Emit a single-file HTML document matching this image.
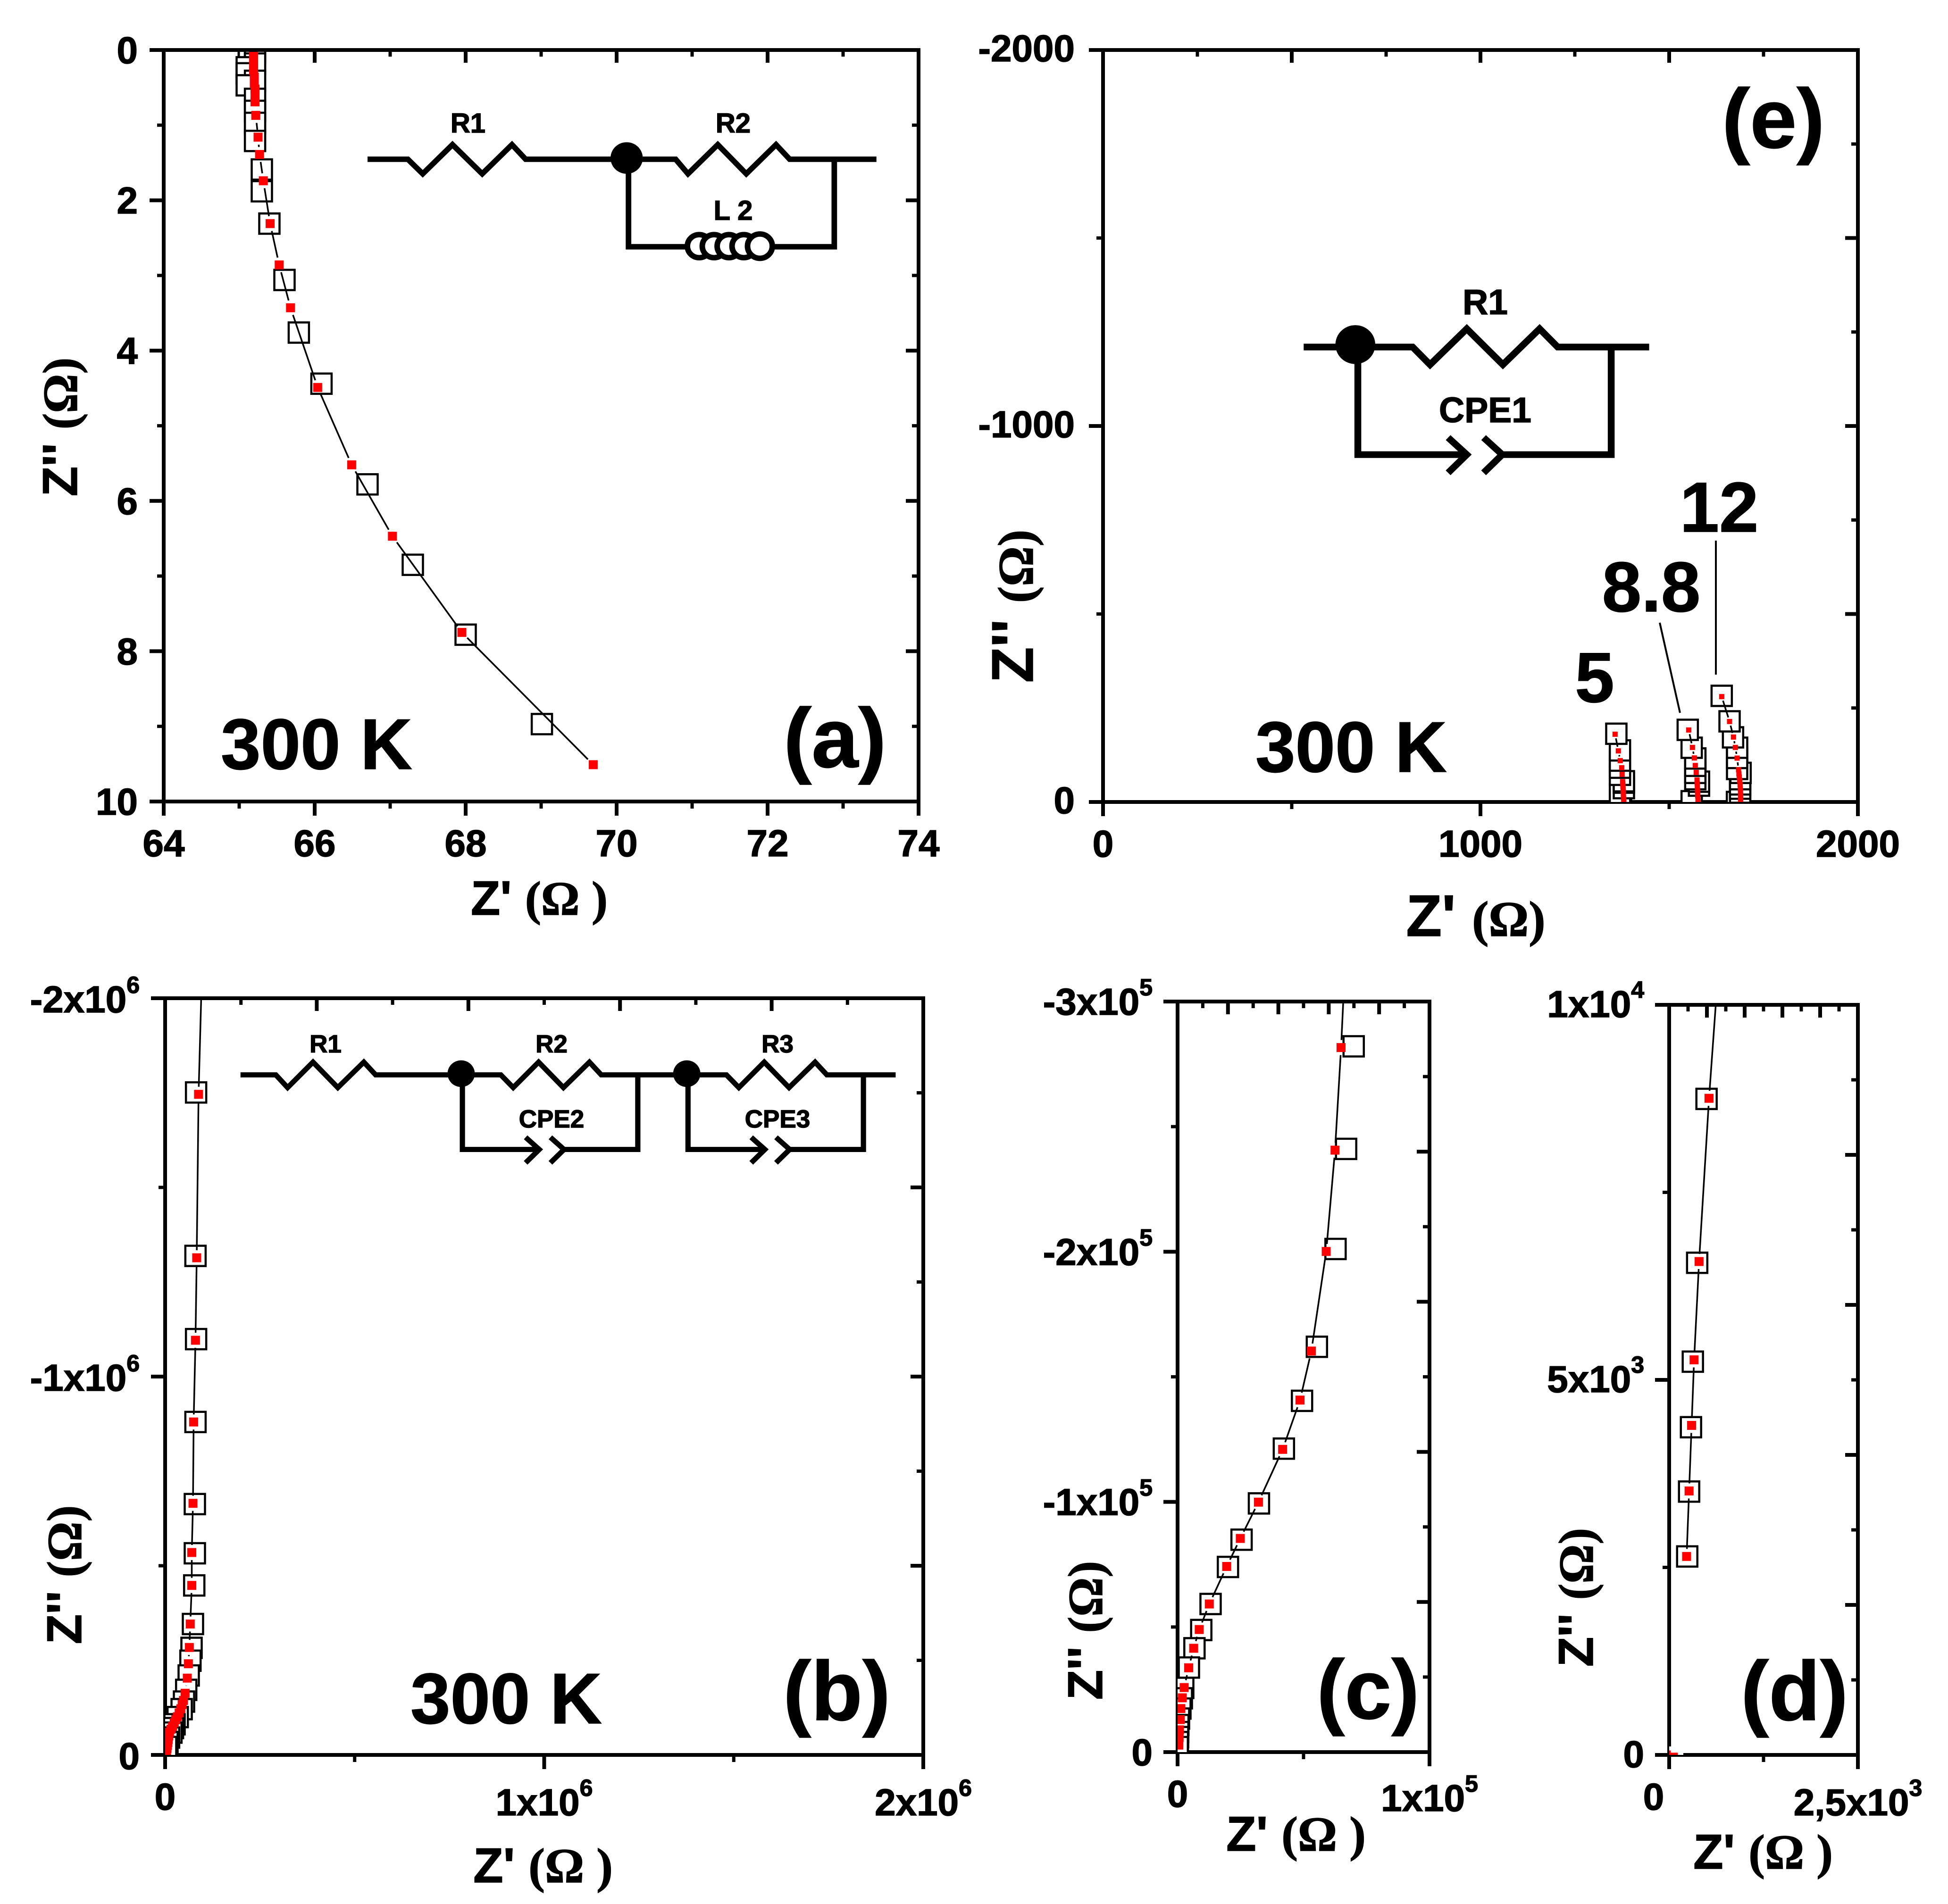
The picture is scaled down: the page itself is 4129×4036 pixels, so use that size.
<!DOCTYPE html>
<html>
<head>
<meta charset="utf-8">
<title>Impedance spectra panels</title>
<style>
html,body{margin:0;padding:0;background:#fff;}
svg{display:block;}
text{font-family:"Liberation Sans",sans-serif;font-weight:bold;fill:#000;stroke:#000;stroke-width:1.5px;}
.om{font-family:"Liberation Serif",serif;font-weight:bold;}
.wire{fill:none;stroke:#000;stroke-linejoin:miter;}
</style>
</head>
<body>
<svg id="figure" xmlns="http://www.w3.org/2000/svg" width="4129" height="4036" viewBox="0 0 4129 4036">
<rect width="4129" height="4036" fill="#fff"/>
<g id="panels"></g>

<!-- Axis titles -->
<text x="1143" y="1939" font-size="102" text-anchor="middle">Z' <tspan class="om">(Ω )</tspan></text>
<text transform="translate(163 905) rotate(-90)" font-size="104" text-anchor="middle">Z'' <tspan class="om">(Ω)</tspan></text>
<text x="3128" y="1984" font-size="124" text-anchor="middle">Z' <tspan class="om" font-size="106" font-weight="normal">(Ω)</tspan></text>
<text transform="translate(2189 1285) rotate(-90)" font-size="124" text-anchor="middle">Z'' <tspan class="om" font-size="106" font-weight="normal">(Ω)</tspan></text>
<text x="1151" y="3990" font-size="104" text-anchor="middle">Z' <tspan class="om">(Ω )</tspan></text>
<text transform="translate(172 3338) rotate(-90)" font-size="104" text-anchor="middle">Z'' <tspan class="om">(Ω)</tspan></text>
<text x="2747" y="3923" font-size="104" text-anchor="middle">Z' <tspan class="om">(Ω )</tspan></text>
<text transform="translate(2336 3456) rotate(-90)" font-size="104" text-anchor="middle">Z'' <tspan class="om">(Ω)</tspan></text>
<text x="3737" y="3961" font-size="104" text-anchor="middle">Z' <tspan class="om">(Ω )</tspan></text>
<text transform="translate(3376 3386) rotate(-90)" font-size="104" text-anchor="middle">Z'' <tspan class="om">(Ω)</tspan></text>

<!-- Panel annotations -->
<text x="468" y="1630" font-size="152">300 K</text>
<text x="2661" y="1636" font-size="152">300 K</text>
<text x="870" y="3653" font-size="152">300 K</text>
<text x="1661" y="1626" font-size="178">(a)</text>
<text x="3650" y="313" font-size="178">(e)</text>
<text x="1660" y="3646" font-size="178">(b)</text>
<text x="2791" y="3643" font-size="178">(c)</text>
<text x="3690" y="3646" font-size="178">(d)</text>
<text x="3380" y="1488" font-size="150" text-anchor="middle">5</text>
<text x="3500" y="1296" font-size="150" text-anchor="middle">8.8</text>
<text x="3644" y="1127" font-size="150" text-anchor="middle">12</text>
<line x1="3518" y1="1320" x2="3561" y2="1511" stroke="#000" stroke-width="4"/>
<line x1="3637" y1="1146" x2="3637" y2="1430" stroke="#000" stroke-width="4"/>

<!-- Circuit (a) -->
<g>
<g transform="matrix(1.3138 0 0 1.2883 0 0)">
<path class="wire" stroke-width="9" d="M593 262H658L682 286L730 238L778 286L826 238L848 262H1090L1110 286L1158 238L1204 286L1252 238L1274 262H1414"/>
<path class="wire" stroke-width="9" d="M1014 262V406H1346V262"/>
<circle cx="1011" cy="260" r="26" fill="#000"/>
<g fill="#fff" stroke="#000" stroke-width="9">
<circle cx="1128" cy="405" r="19"/><circle cx="1152" cy="405" r="19"/><circle cx="1176" cy="405" r="19"/><circle cx="1200" cy="405" r="19"/><circle cx="1226" cy="405" r="20"/>
</g>
</g>
<text x="992" y="281" font-size="58" text-anchor="middle">R1</text>
<text x="1554" y="281" font-size="58" text-anchor="middle">R2</text>
<text x="1554" y="466" font-size="58" text-anchor="middle">L 2</text>
</g>

<!-- Circuit (e) -->
<g>
<g transform="matrix(1.3195 0 0 1.2883 2060 0)">
<path class="wire" stroke-width="11" d="M533 571H708L736 600L795 541L853 600L912 541L941 571H1088"/>
<path class="wire" stroke-width="11" d="M620 571V748H795M765 720L795 748L765 778M822 720L852 748L822 778M852 748H1027V571"/>
<circle cx="616" cy="567" r="32" fill="#000"/>
</g>
<text x="3148" y="666" font-size="75" text-anchor="middle">R1</text>
<text x="3148" y="895" font-size="75" text-anchor="middle">CPE1</text>
</g>

<!-- Circuit (b) -->
<g>
<g transform="matrix(1.3138 0 0 1.2857 0 2020)">
<path class="wire" stroke-width="8.5" d="M388 201H445L464 222L505 180L545 222L587 180L606 201H808L828 222L869 180L909 222L951 180L970 201H1172L1192 222L1233 180L1273 222L1315 180L1334 201H1445"/>
<path class="wire" stroke-width="8.5" d="M746 201V324H870M848 304L870 324L848 346M888 304L910 324L888 346M910 324H1029V201"/>
<path class="wire" stroke-width="8.5" d="M1110 201V324H1234M1212 304L1234 324L1212 346M1252 304L1274 324L1252 346M1274 324H1393V201"/>
<circle cx="744" cy="199" r="22" fill="#000"/>
<circle cx="1108" cy="199" r="22" fill="#000"/>
</g>
<text x="690" y="2231" font-size="53" text-anchor="middle">R1</text>
<text x="1169" y="2231" font-size="53" text-anchor="middle">R2</text>
<text x="1648" y="2231" font-size="53" text-anchor="middle">R3</text>
<text x="1169" y="2390" font-size="53" text-anchor="middle">CPE2</text>
<text x="1648" y="2390" font-size="53" text-anchor="middle">CPE3</text>
</g>
</svg>

<script>
// ---------- Panel (a) data ----------
var aSquareX = [65.13,65.21,65.21,65.1,65.1,65.21,65.1,65.21,65.21,65.21,65.21,65.3,65.3,65.4,65.6,65.79,66.09,66.7,67.3,68,69.01];
var aSquareY = [0.03,0.03,0.18,0.23,0.31,0.41,0.47,0.65,0.81,0.97,1.21,1.59,1.88,2.31,3.06,3.76,4.44,5.78,6.85,7.78,8.97];
var aFitX = [65.19,65.19,65.19,65.19,65.2,65.2,65.21,65.21,65.21,65.22,65.25,65.27,65.32,65.41,65.53,65.68,66.04,66.49,67.03,67.95,69.69];
var aFitY = [0.02,0.1,0.18,0.27,0.36,0.44,0.52,0.6,0.69,0.87,1.16,1.39,1.74,2.31,2.86,3.43,4.49,5.52,6.47,7.75,9.51];
var aXTickValues = [64,66,68,70,72,74];
var aXTickLabels = ["64","66","68","70","72","74"];
var aXMinor = [65,67,69,71,73];
var aYTickValues = [0,2,4,6,8,10];
var aYTickLabels = ["0","2","4","6","8","10"];
var aYMinor = [1,3,5,7,9];

// ---------- Panel (b) data ----------
var bSquareX = [8.17e4,8.01e4,8.17e4,8.01e4,7.84e4,7.84e4,7.68e4,7.34e4,6.97e4,6.68e4,6.22e4,5.56e4,4.98e4,4.36e4,3.32e4,2.49e4,2.07e4,1.66e4,1.04e4,0.62e4,0.25e4];
var bSquareY = [-1.751e6,-1.319e6,-1.099e6,-8.8e5,-6.63e5,-5.33e5,-4.48e5,-3.46e5,-2.83e5,-2.49e5,-2.1e5,-1.72e5,-1.41e5,-1.21e5,-1.0e5,-8.1e4,-7.1e4,-5.9e4,-4.6e4,-3.4e4,-2.1e4];
var bFitX = [9.65e4,8.82e4,8.33e4,8.01e4,7.52e4,7.35e4,7.03e4,7.03e4,6.63e4,6.39e4,6.14e4,5.85e4,5.27e4,4.85e4,4.5e4,4.15e4,3.7e4,3.24e4,2.8e4,2.4e4,1.95e4,1.55e4,1.16e4,0.95e4,0.83e4,0.72e4,0.62e4,0.5e4,0.37e4,0.25e4];
var bFitY = [-2.05e6,-1.746e6,-1.314e6,-1.096e6,-8.8e5,-6.65e5,-5.35e5,-4.48e5,-3.46e5,-2.84e5,-2.41e5,-2.03e5,-1.63e5,-1.44e5,-1.33e5,-1.22e5,-1.11e5,-1.01e5,-9.3e4,-8.5e4,-7.5e4,-6.8e4,-6e4,-5e4,-4.1e4,-3.3e4,-2.5e4,-1.7e4,-0.9e4,-0.2e4];
var bXTickValues = [0,1e6,2e6];
var bXTickLabels = ["0","1x10^6","2x10^6"];
var bXMinor = [5e5,1.5e6];
var bTopMajor = [4e5,8e5,1.2e6,1.6e6];
var bTopMinor = [2e5,6e5,1e6,1.4e6,1.8e6];
var bYTickValues = [0,-1e6,-2e6];
var bYTickLabels = ["0","-1x10^6","-2x10^6"];
var bYMinor = [-5e5,-1.5e6];
var bRightMajor = [-5e5,-1e6,-1.5e6];
var bRightMinor = [-2.5e5,-7.5e5,-1.25e6,-1.75e6];

// ---------- Panel (c) data ----------
var cSquareX = [6.99e4,6.69e4,6.27e4,5.53e4,4.94e4,4.22e4,3.23e4,2.54e4,2.0e4,1.31e4,0.94e4,0.67e4,0.45e4,0.225e4,0.169e4,0.112e4,0.056e4,0.03e4,0.025e4,0.02e4,0.01e4,0.005e4];
var cSquareY = [-2.821e5,-2.411e5,-2.011e5,-1.62e5,-1.404e5,-1.213e5,-9.94e4,-8.49e4,-7.4e4,-5.92e4,-4.88e4,-4.15e4,-3.38e4,-2.566e4,-2.15e4,-1.74e4,-1.34e4,-1.08e4,-8e3,-6e3,-4e3,-2e3];
var cFitX = [6.6e4,6.49e4,6.25e4,5.9e4,5.31e4,4.86e4,4.17e4,3.21e4,2.49e4,1.95e4,1.26e4,0.86e4,0.64e4,0.44e4,0.262e4,0.187e4,0.131e4,0.107e4,0.075e4,0.062e4,0.05e4];
var cFitY = [-3.05e5,-2.816e5,-2.406e5,-2.001e5,-1.603e5,-1.407e5,-1.21e5,-9.99e4,-8.54e4,-7.42e4,-5.92e4,-4.9e4,-4.15e4,-3.37e4,-2.58e4,-2.17e4,-1.74e4,-1.3e4,-8.9e3,-5.8e3,-2.8e3];
var cXTickValues = [0,1e5];
var cXTickLabels = ["0","1x10^5"];
var cXMinor = [5e4];
var cTopMajor = [2e4,4e4,6e4,8e4];
var cTopMinor = [1e4,3e4,5e4,7e4,9e4];
var cYTickValues = [0,-1e5,-2e5,-3e5];
var cYTickLabels = ["0","-1x10^5","-2x10^5","-3x10^5"];
var cYMinor = [-5e4,-1.5e5,-2.5e5];
var cRightMajor = [-6e4,-1.2e5,-1.8e5,-2.4e5];
var cRightMinor = [-3e4,-9e4,-1.5e5,-2.1e5,-2.7e5];

// ---------- Panel (d) data ----------
var dSquareX = [495,371,313.5,289,264,239];
var dSquareY = [8746,6561,5243,4369,3511,2646];
var dFitX = [635,528,396,330,297,264,231];
var dFitY = [10250,8754,6578,5267,4393,3519,2646];
var dCornerFitX = [56,-38];
var dCornerFitY = [-30,0];
var dXTickValues = [0,2500];
var dXTickLabels = ["0","2,5x10^3"];
var dXMinor = [1250];
var dTopMajor = [500,1000,1500,2000];
var dTopMinor = [250,750,1250,1750,2250];
var dYTickValues = [0,5000,10000];
var dYTickLabels = ["0","5x10^3","1x10^4"];
var dYMinor = [2500,7500];
var dRightMajor = [2000,4000,6000,8000];
var dRightMinor = [1000,3000,5000,7000,9000];

// ---------- Panel (e) data ----------
var e5SquareX = [1372.5,1369.6,1380,1380,1380,1369.6,1369.6,1369.6,1369.6,1360];
var e5SquareY = [-8.4,-20.9,-36.8,-51.4,-55.2,-72.3,-91.2,-110,-137.2,-181.5];
var e5FitX = [1356.7,1365.4,1370.4,1374.2,1375.4,1376.7,1377.1,1377.5,1378,1378.3,1378.6,1378.8,1379.2,1379.6,1380];
var e5FitY = [-180.2,-135.9,-110,-91.2,-73.6,-54.3,-48,-41.8,-35,-29.3,-23,-16.7,-11,-6.3,-1];
var e88SquareX = [1559.6,1579,1579,1569.2,1569.2,1569.2,1569.2,1569.2,1559.6,1549.2];
var e88SquareY = [-2,-43.5,-54,-60.6,-77.4,-96.2,-115.8,-115.8,-144.3,-191.9];
var e88FitX = [1551.7,1561.7,1566.7,1569.2,1571.7,1573.8,1574.2,1574.6,1575,1575.4,1575.8,1576.3,1576.6];
var e88FitY = [-191.5,-145.1,-117.1,-97,-78.6,-58.5,-50,-41.8,-33,-25,-16,-6.2,0];
var e12SquareX = [1679.6,1688,1688,1688,1688,1689.2,1680,1680,1680,1669.2,1660,1639.2];
var e12SquareY = [0,-25,-35.5,-46.8,-60.6,-77.4,-87.8,-117.1,-144.3,-171.9,-214.5,-282.3];
var e12FitX = [1639.2,1660,1670.4,1675.4,1680,1683.8,1684.8,1685.8,1687,1688,1688.5,1689,1689.2,1689.2,1689.2];
var e12FitY = [-280.2,-214.1,-172.7,-145.1,-116.7,-85.7,-75,-66.9,-57,-46,-36,-27,-18,-9,-2];
var eXTickValues = [0,1000,2000];
var eXTickLabels = ["0","1000","2000"];
var eXMinor = [500,1500];
var eTopMajor = [500,1000,1500];
var eTopMinor = [250,750,1250,1750];
var eYTickValues = [0,-1000,-2000];
var eYTickLabels = ["0","-1000","-2000"];
var eYMinor = [-500,-1500];
var eRightMajor = [-500,-1000,-1500];
var eRightMinor = [-250,-750,-1250,-1750];

var NS = "http://www.w3.org/2000/svg";
var root = document.getElementById("panels");

function linear(d0, d1, r0, r1) {
  return function (v) { return r0 + (v - d0) / (d1 - d0) * (r1 - r0); };
}
function mk(parent, tag, attrs) {
  var el = document.createElementNS(NS, tag);
  for (var k in attrs) el.setAttribute(k, attrs[k]);
  parent.appendChild(el);
  return el;
}
function tick(g, x1, y1, x2, y2, w) {
  var t = mk(g, "line", {x1: x1, y1: y1, x2: x2, y2: y2, stroke: "#000", "stroke-width": w});
  
  
}
function tickLabel(g, x, y, label, anchor, exponentBaseShift) {
  var parts = label.split("^");
  var t = mk(g, "text", {x: x, y: y, "font-size": 80, "text-anchor": anchor});
  
  
  t.appendChild(document.createTextNode(parts[0]));
  if (parts[1]) {
    var s = mk(t, "tspan", {dy: exponentBaseShift, "font-size": 50});
    s.textContent = parts[1];
  }
}
function drawPanel(p) {
  var g = mk(root, "g", {});
  
  
  var L = p.box[0], T = p.box[1], R = p.box[2], B = p.box[3];
  var sx = linear(p.xDomain[0], p.xDomain[1], L, R);
  var sy = linear(p.yDomain[0], p.yDomain[1], B, T);
  var frame = mk(g, "rect", {x: L, y: T, width: R - L, height: B - T, fill: "none", stroke: "#000", "stroke-width": 8});
  
  
  p.xMajor.forEach(function (v) { tick(g, sx(v), B, sx(v), B + 30, 8); });
  p.xMinor.forEach(function (v) { tick(g, sx(v), B, sx(v), B + 15, 7); });
  p.topMajor.forEach(function (v) { tick(g, sx(v), T, sx(v), T + 27, 8); });
  p.topMinor.forEach(function (v) { tick(g, sx(v), T, sx(v), T + 14, 7); });
  p.yMajor.forEach(function (v) { tick(g, L, sy(v), L - 30, sy(v), 8); });
  p.yMinor.forEach(function (v) { tick(g, L, sy(v), L - 14, sy(v), 7); });
  p.rightMajor.forEach(function (v) { tick(g, R, sy(v), R - 27, sy(v), 8); });
  p.rightMinor.forEach(function (v) { tick(g, R, sy(v), R - 14, sy(v), 7); });
  p.xMajor.forEach(function (v, i) {
    var lab = p.xLabels[i];
    var isExp = lab.indexOf("^") >= 0;
    var shift = (v === 0 ? p.zeroShift : 0);
    tickLabel(g, sx(v) + shift, B + (isExp ? p.xExpOffset : 116), lab, "middle", -41);
  });
  p.yMajor.forEach(function (v, i) {
    tickLabel(g, p.yLabelRight, sy(v) + p.yLabelDy, p.yLabels[i], "end", -41);
  });
  var clipId = p.name + "-clip";
  var cp = mk(g, "clipPath", {id: clipId});
  mk(cp, "rect", {x: L, y: T + 4, width: R - L - 4, height: B - T - 4});
  var data = mk(g, "g", {"clip-path": "url(#" + clipId + ")"});
  
  
  if (p.cornerMask) {
    var mask = mk(data, "rect", {x: L, y: B - 18, width: 30, height: 18, fill: "#fff"});
    
    
  }
  p.series.forEach(function (s) {
    s.squareX.forEach(function (v, i) {
      var q = mk(data, "rect", {x: sx(v) - 21.5, y: sy(s.squareY[i]) - 21.5, width: 43, height: 43, fill: "#fff", stroke: "#000", "stroke-width": 4.5});
      
      
    });
  });
  p.series.forEach(function (s) {
    for (var i = 0; i < s.fitX.length - 1; i++) {
      var x1 = sx(s.fitX[i]), y1 = sy(s.fitY[i]), x2 = sx(s.fitX[i + 1]), y2 = sy(s.fitY[i + 1]);
      var len = Math.hypot(x2 - x1, y2 - y1);
      if (len <= 2 * p.trim) continue;
      var ux = (x2 - x1) / len, uy = (y2 - y1) / len;
      var seg = mk(data, "line", {x1: x1 + ux * p.trim, y1: y1 + uy * p.trim, x2: x2 - ux * p.trim, y2: y2 - uy * p.trim, stroke: "#000", "stroke-width": 3.5});
      
      
    }
  });
  p.series.forEach(function (s) {
    s.fitX.forEach(function (v, i) {
      var m = mk(data, "rect", {x: sx(v) - p.fitSize / 2, y: sy(s.fitY[i]) - p.fitSize / 2, width: p.fitSize, height: p.fitSize, fill: "#ff0000"});
      
      
    });
  });
}

drawPanel({name: "panel-a", box: [347, 106, 1947, 1699], xDomain: [64, 74], yDomain: [10, 0],
  xMajor: aXTickValues, xMinor: aXMinor, xLabels: aXTickLabels,
  topMajor: [66, 68, 70, 72], topMinor: aXMinor,
  yMajor: aYTickValues, yMinor: aYMinor, yLabels: aYTickLabels,
  rightMajor: [2, 4, 6, 8], rightMinor: aYMinor,
  zeroShift: 0, xExpOffset: 116, yLabelRight: 292, yLabelDy: 28,
  trim: 16, fitSize: 19,
  series: [{squareX: aSquareX, squareY: aSquareY, fitX: aFitX, fitY: aFitY}]});

drawPanel({name: "panel-e", box: [2338, 106, 3938, 1700], xDomain: [0, 2000], yDomain: [0, -2000],
  xMajor: eXTickValues, xMinor: eXMinor, xLabels: eXTickLabels,
  topMajor: eTopMajor, topMinor: eTopMinor,
  yMajor: eYTickValues, yMinor: eYMinor, yLabels: eYTickLabels,
  rightMajor: eRightMajor, rightMinor: eRightMinor,
  zeroShift: 0, xExpOffset: 116, yLabelRight: 2278, yLabelDy: 24,
  trim: 9, fitSize: 11,
  series: [
    {squareX: e5SquareX, squareY: e5SquareY, fitX: e5FitX, fitY: e5FitY},
    {squareX: e88SquareX, squareY: e88SquareY, fitX: e88FitX, fitY: e88FitY},
    {squareX: e12SquareX, squareY: e12SquareY, fitX: e12FitX, fitY: e12FitY}
  ]});

drawPanel({name: "panel-b", box: [350, 2116, 1957, 3720], xDomain: [0, 2e6], yDomain: [0, -2e6],
  xMajor: bXTickValues, xMinor: bXMinor, xLabels: bXTickLabels,
  topMajor: bTopMajor, topMinor: bTopMinor,
  yMajor: bYTickValues, yMinor: bYMinor, yLabels: bYTickLabels,
  rightMajor: bRightMajor, rightMinor: bRightMinor,
  zeroShift: 0, xExpOffset: 128, yLabelRight: 296, yLabelDy: 30,
  trim: 16, fitSize: 19,
  series: [{squareX: bSquareX, squareY: bSquareY, fitX: bFitX, fitY: bFitY}]});

drawPanel({name: "panel-c", box: [2496, 2123, 3030, 3714], xDomain: [0, 1e5], yDomain: [0, -3e5],
  xMajor: cXTickValues, xMinor: cXMinor, xLabels: cXTickLabels,
  topMajor: cTopMajor, topMinor: cTopMinor,
  yMajor: cYTickValues, yMinor: cYMinor, yLabels: cYTickLabels,
  rightMajor: cRightMajor, rightMinor: cRightMinor,
  zeroShift: 0, xExpOffset: 125, yLabelRight: 2443, yLabelDy: 28,
  trim: 16, fitSize: 19,
  series: [{squareX: cSquareX, squareY: cSquareY, fitX: cFitX, fitY: cFitY}]});

drawPanel({name: "panel-d", box: [3538, 2130, 3938, 3720], xDomain: [0, 2500], yDomain: [0, 10000],
  xMajor: dXTickValues, xMinor: dXMinor, xLabels: dXTickLabels,
  topMajor: dTopMajor, topMinor: dTopMinor,
  yMajor: dYTickValues, yMinor: dYMinor, yLabels: dYTickLabels,
  rightMajor: dRightMajor, rightMinor: dRightMinor,
  zeroShift: -33, xExpOffset: 128, yLabelRight: 3485, yLabelDy: 26,
  trim: 16, fitSize: 19, cornerMask: true,
  series: [
    {squareX: dSquareX, squareY: dSquareY, fitX: dFitX, fitY: dFitY},
    {squareX: [], squareY: [], fitX: dCornerFitX, fitY: dCornerFitY}
  ]});
</script>
</body>
</html>
